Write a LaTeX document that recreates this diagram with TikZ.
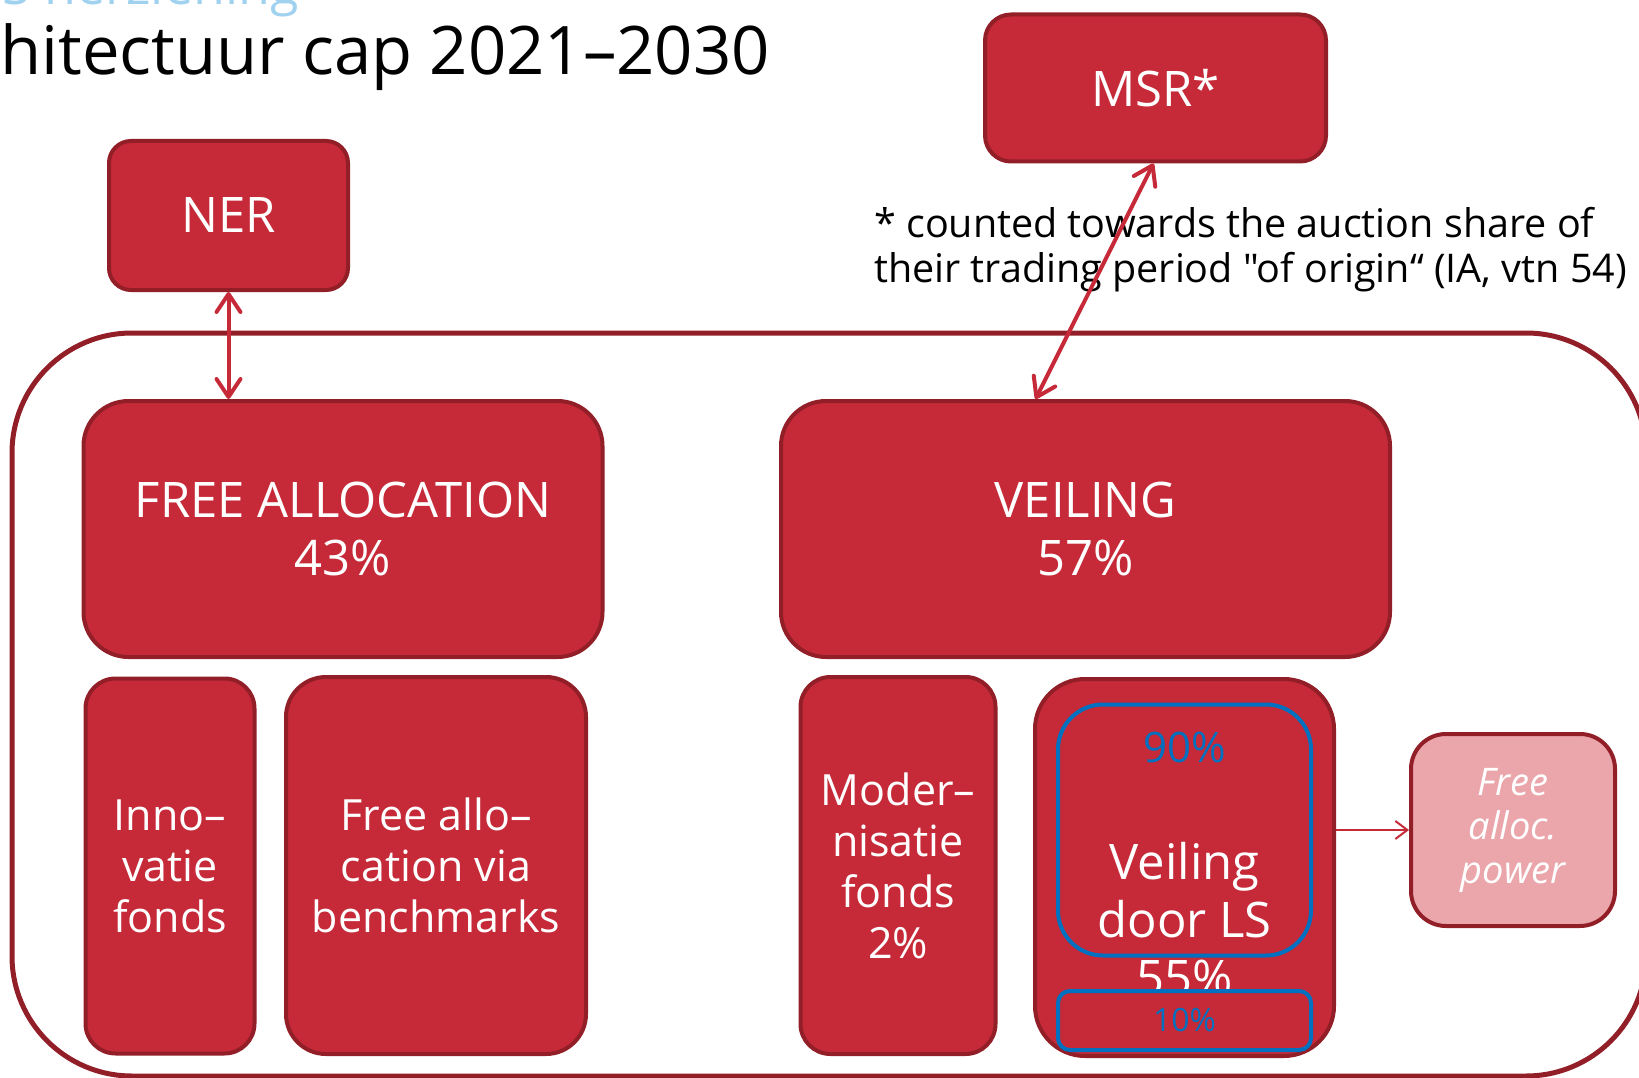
\documentclass[tikz,border=0pt]{standalone}
\usepackage{fontspec}
\setmainfont{Open Sans}[Ligatures=TeXOff]
\usetikzlibrary{positioning, calc, shapes, arrows.meta}
\definecolor{boxred}{RGB}{198,42,56}
\definecolor{darkred}{RGB}{146,30,40}
\definecolor{lightred}{RGB}{234,166,171}
\definecolor{ruleblue}{RGB}{0,112,192}
\definecolor{headblue}{RGB}{160,210,240}

\begin{document}
\begin{tikzpicture}[x=1pt, y=-1pt,
	block/.style={draw=darkred, fill=boxred, line width=4pt, rounded corners=#1, text=white, align=center, inner sep=0pt},
	block/.default=40pt,
	big/.style={font=\fontsize{49}{58}\selectfont},
	small/.style={font=\fontsize{43}{51}\selectfont},
	share/.style={draw=ruleblue, line width=4pt, inner sep=0pt, text=ruleblue},
	link/.style={draw=boxred, line width=4pt, {Straight Barb[length=18pt,width=24pt,round]}-{Straight Barb[length=18pt,width=24pt,round]}}
]
	\useasboundingbox (0,0) rectangle (1639,1078);
	\clip (0,0) rectangle (1639,1078);
	\node[draw=darkred, line width=5pt, rounded corners=120pt, minimum width=1634pt, minimum height=743pt] (cap) at (829,704.5) {};
	\node[anchor=base west, text=headblue, font=\fontsize{52}{60}\selectfont, inner sep=0pt] (sub) at (2,5) {S herziening};
	\node[anchor=base east, font=\fontsize{67}{80}\selectfont, inner sep=0pt] (title) at (770,75) {hitectuur cap 2021–2030};
	\node[anchor=base west, align=left, font=\fontsize{39.5}{45}\selectfont, inner sep=0pt] (note) at (874,283) {* counted towards the auction share of\\their trading period "of origin“ (IA, vtn 54)};

	\node[block=22pt, big, minimum width=239pt, minimum height=149pt] (ner) at (228.5,215.5) {NER};
	\node[block=26pt, big, minimum width=341pt, minimum height=147pt] (msr) at (1155.5,88) {MSR*};
	\node[block=45pt, big, minimum width=519pt, minimum height=256pt] (free) at (343,529) {FREE ALLOCATION\\43\%};
	\node[block=45pt, big, minimum width=609pt, minimum height=256pt] (veiling) at (1085.5,529) {VEILING\\57\%};

	\node[block=30pt, small, minimum width=169pt, minimum height=375pt] (innov) at (170,866) {Inno–\\vatie\\fonds};
	\node[block=40pt, small, minimum width=300pt, minimum height=377pt] (bench) at (436,865.5) {Free allo–\\cation via\\benchmarks};
	\node[block=30pt, small, minimum width=195pt, minimum height=377pt] (modern) at (898,865.5) {Moder–\\nisatie\\fonds\\2\%};
	\node[block=50pt, minimum width=299pt, minimum height=377pt] (auction) at (1184.5,867.5) {};
	\node[share, rounded corners=45pt, minimum width=253pt, minimum height=251pt] (bulk) at (1184.5,830) {};
	\node[anchor=base, inner sep=0pt, text=ruleblue, font=\fontsize{42}{50}\selectfont] (bulkshare) at (1184.5,762) {90\%};
	\node[anchor=base, inner sep=0pt, text=white, big, align=center] (auctiontext) at (1184.5,995) {Veiling\\door LS\\55\%};
	\node[share, fill=boxred, rounded corners=12pt, minimum width=253pt, minimum height=59pt, font=\fontsize{32}{38}\selectfont] (rest) at (1184.5,1020.5) {10\%};
	\node[block=35pt, fill=lightred, font=\fontsize{38}{44}\selectfont\itshape, minimum width=204pt, minimum height=192pt] (power) at (1513,830) {Free\\alloc.\\power};

	\draw[link] (ner.south) -- (ner.south |- free.north);
	\draw[link] ([xshift=-2pt]msr.south) -- ([xshift=-50pt]veiling.north);
	\draw[draw=boxred, line width=2pt, -{Straight Barb[length=12pt,width=18pt]}] (auction.east |- power.west) -- (power.west);
\end{tikzpicture}
\end{document}
